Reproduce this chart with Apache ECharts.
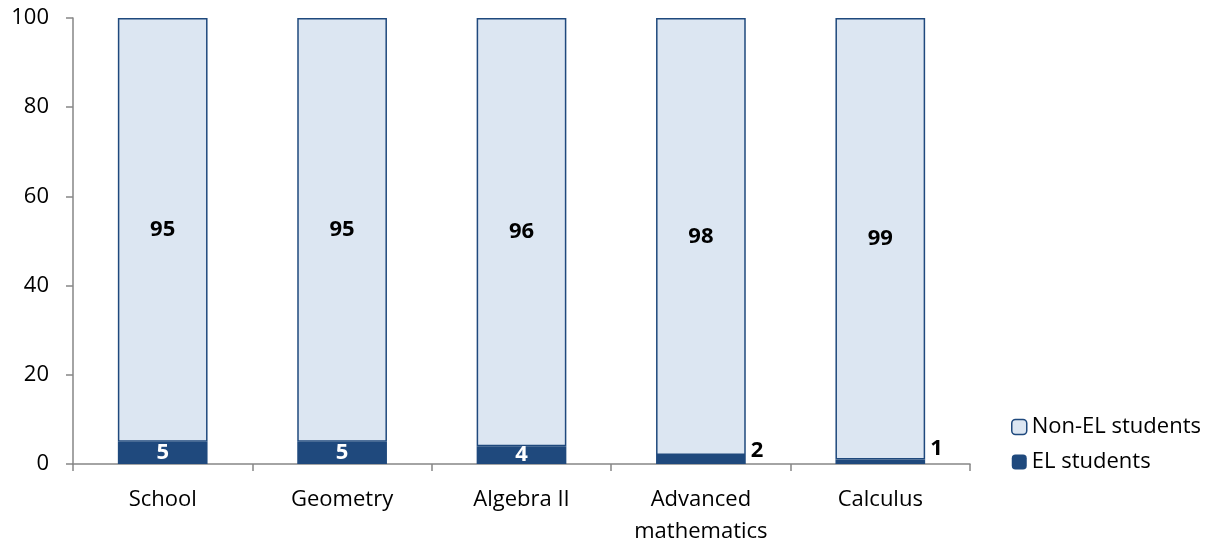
<!DOCTYPE html>
<html>
<head>
<meta charset="utf-8">
<script src="https://cdn.jsdelivr.net/npm/echarts@6/dist/echarts.min.js"></script>
<style>
  html, body { margin: 0; padding: 0; background: #fff; }
  #chart { width: 1215px; height: 545px; }
</style>
</head>
<body>
<div id="chart"></div>
<script>
// Share of students in each course group (percent)
const categories = ['School', 'Geometry', 'Algebra II', 'Advanced\nmathematics', 'Calculus'];
const elStudents = [5, 5, 4, 2, 1];
const nonElStudents = [95, 95, 96, 98, 99];
const yTicks = [0, 20, 40, 60, 80, 100];

const FONT = '"Open Sans", "Noto Sans", sans-serif';
const FS = 22;
const DARK = '#1f497d';
const LIGHT = '#dce6f2';
const AXIS = '#868686';

const chart = echarts.init(document.getElementById('chart'));

// Thin EL segments get their value label to the right of the bar
const elData = elStudents.map(v => {
  if (v >= 3) return { value: v };
  return {
    value: v,
    label: {
      position: 'right',
      color: '#000',
      offset: [0, v === 1 ? -13 : -9]
    }
  };
});

chart.setOption({
  animation: false,
  grid: { left: 73, right: 245, top: 18, bottom: 81, outerBoundsMode: 'none', containLabel: false },
  legend: {
    orient: 'vertical',
    left: 1006,
    top: 411,
    itemGap: 13,
    itemWidth: 15,
    itemHeight: 15,
    data: [
      { name: 'Non-EL students', itemStyle: { color: LIGHT, borderColor: DARK, borderWidth: 1.5 } },
      { name: 'EL students', itemStyle: { color: DARK } }
    ],
    textStyle: { fontFamily: FONT, fontSize: FS, color: '#000', padding: [0, 0, 0, 0] }
  },
  xAxis: {
    type: 'category',
    data: categories,
    axisLine: { lineStyle: { color: AXIS, width: 1.5 } },
    axisTick: { show: true, length: 7, alignWithLabel: false, lineStyle: { color: AXIS, width: 1.5 } },
    axisLabel: { fontFamily: FONT, fontSize: FS, color: '#000', margin: 20, lineHeight: 32 }
  },
  yAxis: {
    type: 'value',
    min: yTicks[0],
    max: yTicks[yTicks.length - 1],
    interval: yTicks[1] - yTicks[0],
    splitLine: { show: false },
    axisLine: { show: true, lineStyle: { color: AXIS, width: 1.5 } },
    axisTick: { show: true, length: 7, lineStyle: { color: AXIS, width: 1.5 } },
    axisLabel: { fontFamily: FONT, fontSize: FS, color: '#000', margin: 24 }
  },
  series: [
    {
      name: 'EL students',
      type: 'bar',
      stack: 'total',
      barWidth: '50%',
      data: elData,
      itemStyle: { color: DARK },
      label: {
        show: true,
        position: 'inside',
        fontFamily: FONT,
        fontWeight: 'bold',
        fontSize: FS,
        color: '#fff'
      }
    },
    {
      name: 'Non-EL students',
      type: 'bar',
      stack: 'total',
      barWidth: '50%',
      data: nonElStudents,
      itemStyle: { color: LIGHT, borderColor: DARK, borderWidth: 1.5 },
      label: {
        show: true,
        position: 'inside',
        fontFamily: FONT,
        fontWeight: 'bold',
        fontSize: FS,
        color: '#000'
      }
    }
  ]
});
</script>
</body>
</html>
